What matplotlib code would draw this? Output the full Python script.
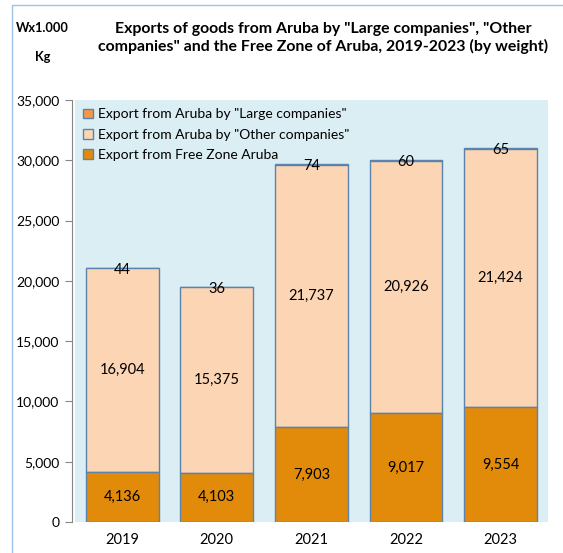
import numpy as np
import matplotlib.pyplot as plt
from matplotlib.patches import Rectangle

years = ['2019', '2020', '2021', '2022', '2023']
free_zone = [4136, 4103, 7903, 9017, 9554]
other_comp = [16904, 15375, 21737, 20926, 21424]
large_comp = [44, 36, 74, 60, 65]

C_LARGE = '#F79646'
C_OTHER = '#FCD5B5'
C_FREE = '#E28A0A'
EDGE = '#5B83AE'
BG = '#DAEEF3'

plt.rcParams['font.family'] = ['Lato', 'DejaVu Sans']

fig = plt.figure(figsize=(5.63, 5.53), dpi=100)
ax = fig.add_axes([0.133, 0.056, 0.84, 0.763])
ax.set_facecolor(BG)

# outer frame
fig.add_artist(Rectangle((12 / 563, -0.05), 1.0, 0.05 + (553 - 5) / 553,
                         transform=fig.transFigure, fill=False,
                         edgecolor='#9DC3E6', linewidth=1.0))

x = np.arange(len(years))
w = 0.77
free = np.array(free_zone)
other = np.array(other_comp)
large = np.array(large_comp)

ax.bar(x, large, w, bottom=free + other, color=C_LARGE, edgecolor=EDGE,
       linewidth=1.0, label='Export from Aruba by "Large companies"', zorder=3)
ax.bar(x, other, w, bottom=free, color=C_OTHER, edgecolor=EDGE,
       linewidth=1.0, label='Export from Aruba by "Other companies"', zorder=3)
ax.bar(x, free, w, color=C_FREE, edgecolor=EDGE,
       linewidth=1.0, label='Export from Free Zone Aruba', zorder=3)

for i in range(len(years)):
    ax.text(x[i], free[i] / 2, f'{free[i]:,}', ha='center', va='center',
            fontsize=10.5, zorder=4)
    ax.text(x[i], free[i] + other[i] / 2, f'{other[i]:,}', ha='center',
            va='center', fontsize=10.5, zorder=4)
    ax.text(x[i], free[i] + other[i] + large[i] - 150, f'{large[i]:,}',
            ha='center', va='center', fontsize=10.5, zorder=4)

ax.set_xlim(-0.5, 4.5)
ax.set_ylim(0, 35000)
ax.set_xticks(x)
ax.set_xticklabels(years, fontsize=10.5)
ax.set_yticks(np.arange(0, 35001, 5000))
ax.set_yticklabels([f'{v:,}' for v in range(0, 35001, 5000)], fontsize=10.5)
ax.tick_params(axis='x', length=0, pad=8)
ax.tick_params(axis='y', length=5, color='#868686', pad=4)
for s in ['top', 'right', 'bottom']:
    ax.spines[s].set_visible(False)
ax.spines['left'].set_color('#868686')
ax.spines['left'].set_position(('outward', 2))

leg = ax.legend(loc='upper left', frameon=False, fontsize=10,
                handlelength=0.7, handleheight=0.7, handletextpad=0.4,
                labelspacing=0.6, borderaxespad=0.2,
                bbox_to_anchor=(0.0, 1.0))

fig.text(0.574, 0.931, 'Exports of goods from Aruba by "Large companies", "Other\n'
         'companies" and the Free Zone of Aruba, 2019-2023 (by weight)',
         ha='center', va='center', fontsize=11.4, fontweight='bold',
         linespacing=1.2)
fig.text(0.076, 0.924, 'Wx1.000\nKg', ha='center', va='center',
         fontsize=9.2, fontweight='bold', linespacing=2.7)

fig.savefig('out.png', dpi=100)
